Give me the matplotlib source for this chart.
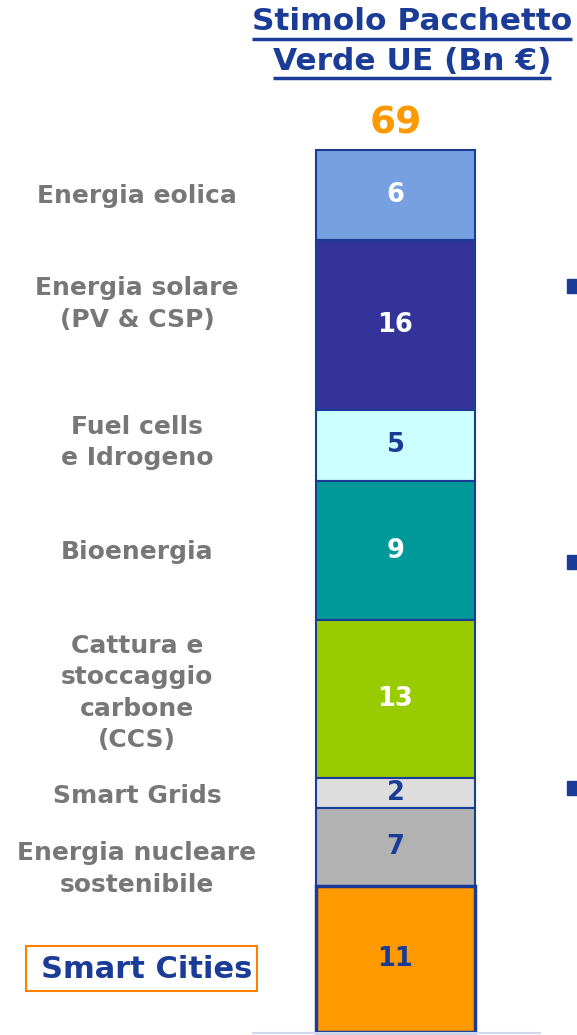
import matplotlib
matplotlib.use("Agg")
import matplotlib.pyplot as plt
from matplotlib.patches import Rectangle

# data
categories = ["Energia eolica", "Energia solare\n(PV & CSP)", "Fuel cells\ne Idrogeno",
              "Bioenergia", "Cattura e\nstoccaggio\ncarbone\n(CCS)", "Smart Grids",
              "Energia nucleare\nsostenibile", "Smart Cities"]
values = [6, 16, 5, 9, 13, 2, 7, 11]
# segment sizes as drawn in the original slide (not proportional to values)
drawn_size = [90, 170, 71, 139, 158, 30, 78, 146]
total = 69
title = "Stimolo Pacchetto\nVerde UE (Bn €)"

colors = ["#77A0E0", "#333399", "#CCFFFF", "#009999", "#99CC00", "#DDDDDD", "#B2B2B2", "#FF9900"]
num_colors = ["white", "white", "#1A3C96", "white", "white", "#1A3C96", "#1A3C96", "#1A3C96"]
navy = "#1A3C96"
grey = "#777777"

fig = plt.figure(figsize=(5.77, 10.35), dpi=100)
ax = fig.add_axes([0, 0, 1, 1])
ax.set_xlim(0, 577)
ax.set_ylim(1035, 0)
ax.axis("off")

bar_x, bar_w, bar_top = 395.5, 159, 150
bottoms = []
cum = bar_top
for s in drawn_size:
    bottoms.append(cum)
    cum += s
bars = ax.bar(bar_x, drawn_size, width=bar_w, bottom=bottoms, color=colors,
              edgecolor=navy, linewidth=1.5, zorder=2)
bars[-1].set_linewidth(2.5)

label_dy = [1, -21, -3, 2, -6, 3, 22, 10]
for i, (b, s) in enumerate(zip(bottoms, drawn_size)):
    yc = b + s / 2
    ax.text(bar_x, yc, str(values[i]), ha="center", va="center", fontsize=18.5,
            fontweight="bold", color=num_colors[i], zorder=3)
    if i < len(categories) - 1:
        ax.text(137, yc + label_dy[i], categories[i], ha="center", va="center",
                fontsize=18, fontweight="bold", color=grey, linespacing=1.4)
    else:
        ax.add_patch(Rectangle((26, 946), 231, 45, fc="white", ec="#FF7F00", lw=1.5))
        ax.text(147, yc + label_dy[i], categories[i], ha="center", va="center",
                fontsize=22, fontweight="bold", color=navy)

ax.text(bar_x, 123, str(total), ha="center", va="center", fontsize=27,
        fontweight="bold", color="#FF9900")

# title with underline
fig.canvas.draw()
r = fig.canvas.get_renderer()
for line, y in zip(title.split("\n"), [22, 61]):
    t = ax.text(412, y, line, ha="center", va="center", fontsize=22.5,
                fontweight="bold", color=navy)
    bb = t.get_window_extent(r).transformed(ax.transData.inverted())
    ax.plot([bb.x0, bb.x1], [y + 17, y + 17], color=navy, lw=2.5, solid_capstyle="butt")

# bullets at right edge
for y in [286, 562, 788]:
    ax.add_patch(Rectangle((567, y - 7), 12, 14, color=navy, clip_on=False))

ax.plot([253, 540], [1033, 1033], color="#D0D8EE", lw=1.5)

fig.savefig("out.png", dpi=100)
